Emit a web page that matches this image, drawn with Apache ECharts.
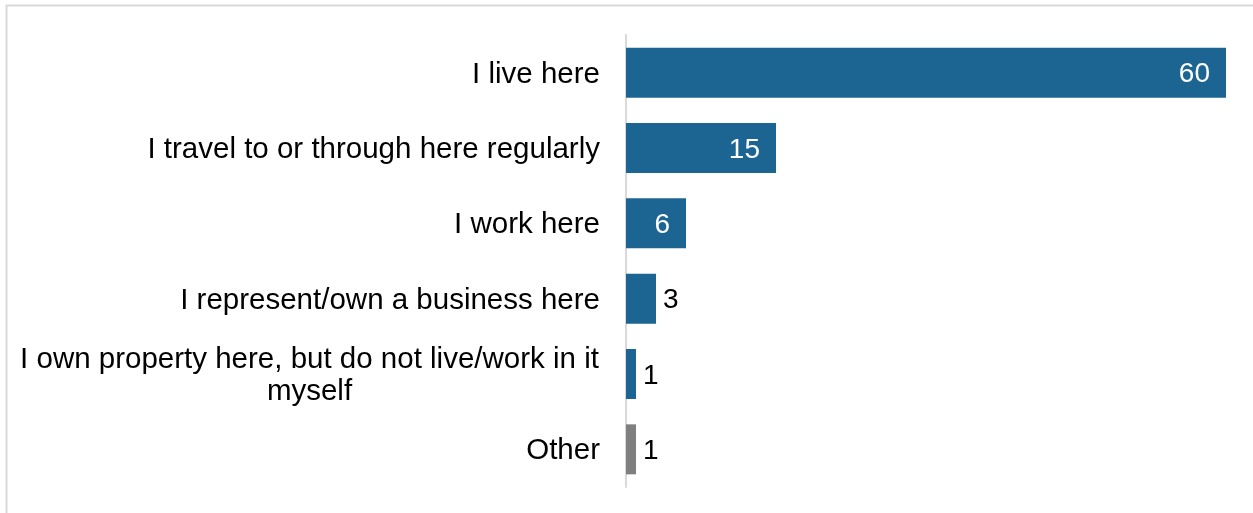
<!DOCTYPE html>
<html>
<head>
<meta charset="utf-8">
<script src="https://cdn.jsdelivr.net/npm/echarts@6/dist/echarts.min.js"></script>
<style>
  html, body { margin: 0; padding: 0; background: #fff; }
  #chart { width: 1253px; height: 513px; }
</style>
</head>
<body>
<div id="chart"></div>
<script>
// Reasons for connection to the area (number of responses)
const categories = [
  'I live here',
  'I travel to or through here regularly',
  'I work here',
  'I represent/own a business here',
  'I own property here, but do not live/work in it\nmyself',
  'Other'
];
const counts = [60, 15, 6, 3, 1, 1];
const barColors = ['#1c6593', '#1c6593', '#1c6593', '#1c6593', '#1c6593', '#7f7f7f'];

const FONT = '"Liberation Sans", Arial, sans-serif';
const LABEL_SIZE = 29.5;

// Larger bars carry their value inside in white, small ones outside in black
const seriesData = counts.map((v, i) => {
  const inside = v >= 6;
  return {
    value: v,
    itemStyle: { color: barColors[i] },
    label: inside
      ? { position: 'insideRight', distance: 16, color: '#ffffff' }
      : { position: 'right', distance: 7, color: '#000000' }
  };
});

const chart = echarts.init(document.getElementById('chart'), null, { renderer: 'canvas' });
chart.setOption({
  backgroundColor: '#ffffff',
  animation: false,
  graphic: [{
    type: 'rect',
    shape: { x: 6.5, y: 5.5, width: 1400, height: 700 },
    style: { fill: 'none', stroke: '#d9d9d9', lineWidth: 2 },
    silent: true,
    z: -1
  }],
  grid: { left: 626, right: 27, top: 35, bottom: 26, containLabel: false },
  xAxis: {
    type: 'value',
    min: 0,
    max: 60,
    show: false,
    splitLine: { show: false }
  },
  yAxis: {
    type: 'category',
    data: categories,
    inverse: true,
    axisLine: { show: true, lineStyle: { color: '#d9d9d9', width: 2 } },
    axisTick: { show: false },
    axisLabel: {
      margin: 26,
      color: '#000000',
      fontFamily: FONT,
      fontSize: LABEL_SIZE,
      lineHeight: 32,
      align: 'right',
      padding: [4, 0, 0, 0],
      // wrapped labels are centred line by line inside a fixed-width box
      formatter: (name) => name.indexOf('\n') < 0
        ? name
        : name.split('\n').map((s) => '{w|' + s + '}').join('\n'),
      rich: {
        w: {
          width: 581,
          align: 'center',
          fontFamily: FONT,
          fontSize: LABEL_SIZE,
          lineHeight: 32,
          color: '#000000'
        }
      }
    }
  },
  series: [{
    type: 'bar',
    data: seriesData,
    barWidth: 50,
    label: {
      show: true,
      fontFamily: FONT,
      fontSize: 28,
      offset: [0, 2]
    }
  }]
});
</script>
</body>
</html>
